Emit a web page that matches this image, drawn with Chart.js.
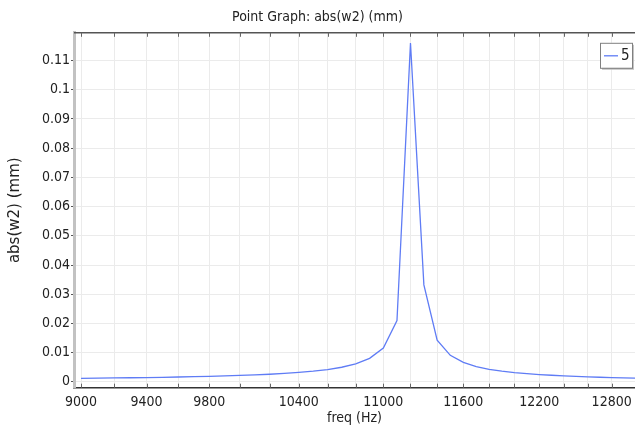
<!DOCTYPE html>
<html>
<head>
<meta charset="utf-8">
<script src="https://cdn.jsdelivr.net/npm/chart.js@4"></script>
<style>
  html, body { margin: 0; padding: 0; background: #ffffff; }
  #wrap { width: 635px; height: 428px; }
</style>
</head>
<body>
<div id="wrap"><canvas id="chart" width="635" height="428"></canvas></div>
<script>
// frequencies (Hz), one sample every 100 Hz
const freqs = [9000, 9100, 9200, 9300, 9400, 9500, 9600, 9700, 9800, 9900,
  10000, 10100, 10200, 10300, 10400, 10500, 10600, 10700, 10800, 10900,
  11000, 11100, 11200, 11300, 11400, 11500, 11600, 11700, 11800, 11900,
  12000, 12100, 12200, 12300, 12400, 12500, 12600, 12700, 12800, 12900, 13000];

// abs(w2) in mm
const absW2 = [0.00122, 0.00127, 0.00133, 0.0014, 0.00147, 0.00156, 0.00166, 0.00177, 0.0019, 0.00204,
  0.0022, 0.00238, 0.00261, 0.00288, 0.00322, 0.00365, 0.00422, 0.005, 0.00616, 0.00804,
  0.0116, 0.021, 0.1160, 0.0332, 0.01425, 0.00908, 0.00665, 0.00523, 0.00431, 0.00366,
  0.00317, 0.0028, 0.0025, 0.00226, 0.00205, 0.00187, 0.00172, 0.00158, 0.00146, 0.00136, 0.00127];

const seriesName = "5";

// tick positions and the labels shown
const xTickValues = [9000, 9200, 9400, 9600, 9800, 10000, 10200, 10400, 10600, 10800,
  11000, 11200, 11400, 11600, 11800, 12000, 12200, 12400, 12600, 12800, 13000];
const xTickLabels = [9000, 9400, 9800, 10400, 11000, 11600, 12200, 12800];
const yTickValues = [0, 0.01, 0.02, 0.03, 0.04, 0.05, 0.06, 0.07, 0.08, 0.09, 0.1, 0.11];
const yTickLabels = ["0", "0.01", "0.02", "0.03", "0.04", "0.05", "0.06", "0.07", "0.08", "0.09", "0.1", "0.11"];

const lineColor = "rgb(95, 124, 245)";
const fontName = "'DejaVu Sans Condensed', 'DejaVu Sans', sans-serif";

// frame line on top, inward x ticks, boxed legend
const framePlugin = {
  id: "frame",
  afterDraw(chart) {
    const ctx = chart.ctx;
    const area = chart.chartArea;
    const xs = chart.scales.x;
    ctx.save();
    ctx.strokeStyle = "#555555";
    ctx.lineWidth = 1.5;
    ctx.beginPath();
    ctx.moveTo(area.left, area.top);
    ctx.lineTo(area.right, area.top);
    ctx.stroke();

    ctx.lineWidth = 1;
    ctx.strokeStyle = "#666666";
    xTickValues.forEach(v => {
      const px = Math.round(xs.getPixelForValue(v)) + 0.5;
      ctx.beginPath();
      ctx.moveTo(px, area.top);
      ctx.lineTo(px, area.top + 4);
      ctx.moveTo(px, area.bottom);
      ctx.lineTo(px, area.bottom - 4);
      ctx.stroke();
    });

    // legend
    const bx = area.right - 35, by = area.top + 10, bw = 32, bh = 25;
    ctx.fillStyle = "#c4c4c4";
    ctx.fillRect(bx + 2, by + 2, bw, bh);
    ctx.fillStyle = "#ffffff";
    ctx.fillRect(bx, by, bw, bh);
    ctx.strokeStyle = "#808080";
    ctx.lineWidth = 1;
    ctx.strokeRect(bx + 0.5, by + 0.5, bw, bh);
    ctx.strokeStyle = lineColor;
    ctx.lineWidth = 1.3;
    ctx.beginPath();
    ctx.moveTo(bx + 4, by + bh / 2 + 0.5);
    ctx.lineTo(bx + 18, by + bh / 2 + 0.5);
    ctx.stroke();
    ctx.fillStyle = "#222222";
    ctx.font = "15px " + fontName;
    ctx.textBaseline = "middle";
    ctx.fillText(chart.data.datasets[0].label, bx + 21, by + bh / 2 + 1);
    ctx.restore();
  }
};

const ctx = document.getElementById("chart").getContext("2d");

new Chart(ctx,
{
  type: "line",
  data:
  {
    datasets: [
    {
      label: seriesName,
      data: freqs.map((f, i) => ({ x: f, y: absW2[i] })),
      borderColor: lineColor,
      borderWidth: 1.3,
      pointRadius: 0,
      pointHoverRadius: 0,
      tension: 0,
      fill: false
    }]
  },
  options:
  {
    responsive: false,
    animation: false,
    devicePixelRatio: 1,
    layout: { padding: 0, autoPadding: false },
    plugins:
    {
      legend: { display: false },
      tooltip: { enabled: false },
      title:
      {
        display: true,
        text: "Point Graph: abs(w2) (mm)",
        color: "#222222",
        font: { family: fontName, size: 14, weight: "normal" },
        padding: { top: 9, bottom: 7 }
      }
    },
    scales:
    {
      x:
      {
        type: "logarithmic",
        bounds: "data",
        min: 8958,
        max: 13000,
        afterBuildTicks: scale => { scale.ticks = xTickValues.map(v => ({ value: v })); },
        afterFit: scale => {
          scale.height = 40.3;
          scale.paddingRight = 0;
          scale.paddingLeft = 0;
        },
        grid: { color: "#ebebeb", lineWidth: 1, drawTicks: false },
        border: { color: "#333333", width: 1.5 },
        ticks:
        {
          autoSkip: false,
          maxRotation: 0,
          padding: 6,
          color: "#222222",
          font: { family: fontName, size: 14 },
          callback: value => xTickLabels.includes(value) ? String(value) : ""
        },
        title:
        {
          display: true,
          text: "freq (Hz)",
          color: "#222222",
          font: { family: fontName, size: 14 },
          padding: { top: 0, bottom: 1 }
        }
      },
      y:
      {
        type: "linear",
        bounds: "data",
        min: -0.002,
        max: 0.1195,
        afterBuildTicks: scale => { scale.ticks = yTickValues.map(v => ({ value: v })); },
        afterFit: scale => { scale.width = 74; },
        grid: { color: "#ebebeb", lineWidth: 1, tickLength: 3, tickColor: "#555555" },
        border: { color: "#c2c2c2", width: 3 },
        ticks:
        {
          padding: 1,
          color: "#222222",
          font: { family: fontName, size: 14 },
          callback: (value, index) => yTickLabels[index]
        },
        title:
        {
          display: true,
          text: "abs(w2) (mm)",
          color: "#222222",
          font: { family: "'DejaVu Sans', sans-serif", size: 15 },
          padding: { top: 6, bottom: 0 }
        }
      }
    }
  },
  plugins: [framePlugin]
});
</script>
</body>
</html>
